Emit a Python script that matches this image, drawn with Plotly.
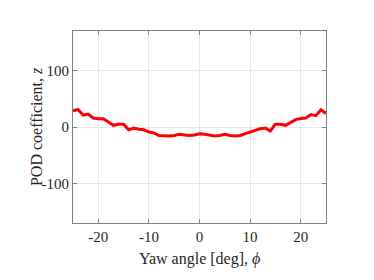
import plotly.graph_objects as go

yaw_deg = list(range(-25, 26))
pod_z = [28.5, 31, 21, 23, 16, 14.5, 14.5, 9, 3, 5, 5, -5, -2, -4, -5, -9, -10.5, -15,
         -16, -16, -15, -13, -14, -15, -14, -12, -13, -15, -16, -15, -13, -15, -16, -15,
         -12, -9, -5, -3, -2, -7, 5, 5, 3, 8, 13, 15, 16, 22, 20, 30.5, 24]

x_ticks = [-20, -10, 0, 10, 20]
x_tick_labels = ["-20", "-10", "0", "10", "20"]
y_ticks = [-100, 0, 100]
y_tick_labels = ["-100", "0", "100"]

font_family = "Liberation Serif"

fig = go.Figure()
fig.add_trace(go.Scatter(x=yaw_deg, y=pod_z, mode="lines",
                         line=dict(color="#ff0000", width=3)))

axis_common = dict(
    showline=True, linecolor="#808080", linewidth=1, mirror="ticks",
    ticks="inside", ticklen=4, tickcolor="#808080",
    showgrid=True, gridcolor="#e6e6e6", gridwidth=1,
    zeroline=False, tickfont=dict(family=font_family, size=15, color="#262626"),
)

fig.update_layout(
    width=366, height=272,
    margin=dict(l=65, r=48, t=23, b=57),
    paper_bgcolor="white", plot_bgcolor="white",
    font=dict(family=font_family, size=15, color="#262626"),
    showlegend=False,
    xaxis=dict(range=[-25, 25], tickvals=x_ticks, ticktext=x_tick_labels, **axis_common),
    yaxis=dict(range=[-170, 170], tickvals=y_ticks, ticktext=y_tick_labels, **axis_common),
    annotations=[
        dict(text="Yaw angle [deg], <i>ϕ</i>", xref="paper", yref="paper",
             x=0.5, y=-0.1875, xanchor="center", yanchor="middle", showarrow=False,
             font=dict(family=font_family, size=16, color="#262626")),
        dict(text="POD coefficient, <i>z</i>", xref="paper", yref="paper",
             x=-0.146, y=0.5, xanchor="center", yanchor="middle", showarrow=False,
             textangle=-90,
             font=dict(family=font_family, size=16, color="#262626")),
    ],
)

fig.write_html("out.html")
